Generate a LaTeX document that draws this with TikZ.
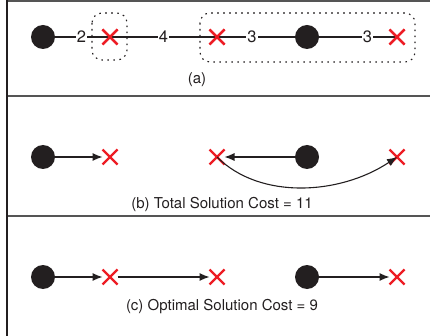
\documentclass[tikz,border=0pt]{standalone}
\usepackage{fontspec}
\setmainfont{TeX Gyre Heros}
\usetikzlibrary{shapes.misc,arrows.meta}
\definecolor{ink}{HTML}{231F20}
\definecolor{xred}{HTML}{ED1C24}
\definecolor{rule}{HTML}{555555}
\begin{document}
\begin{tikzpicture}[x=1pt,y=-1pt,
  dotnode/.style={circle,fill=ink,minimum size=24pt,inner sep=0pt},
  xnode/.style={cross out,draw=xred,line width=2.4pt,minimum size=13pt,inner sep=0pt,outer sep=1pt},
  wlabel/.style={fill=white,inner sep=1pt,text=ink,font=\fontsize{16.5}{19}\selectfont},
  caption/.style={text=ink,font=\fontsize{15}{18}\selectfont},
  conn/.style={draw=ink,line width=1.1pt},
  arr/.style={conn,-{Latex[length=10pt,width=8pt]}},
  grp/.style={draw=ink,line width=1.1pt,dash pattern=on 1.6pt off 4.4pt,rounded corners=10pt},
  sep/.style={draw=rule,line width=2pt}]
\useasboundingbox (0,0) rectangle (430,336);
% frame
\draw[sep] (7,1) -- (430,1);
\draw[sep] (7,96) -- (430,96);
\draw[sep] (7,216) -- (430,216);
\draw[draw=ink,line width=1.2pt] (7,0) -- (7,336);
% (a)
\draw[grp] (92,13) rectangle (127,60);
\draw[grp] (200,13) rectangle (415,62);
\node[dotnode] (a1) at (43,37) {};
\node[xnode] (a2) at (110,37) {};
\node[xnode] (a3) at (217,37) {};
\node[dotnode] (a4) at (307,37) {};
\node[xnode] (a5) at (397,37) {};
\draw[conn] (a1) -- node[wlabel,pos=0.48] {2} (a2.center);
\draw[conn] (a2.center) -- node[wlabel,pos=0.5] {4} (a3.center);
\draw[conn] (a3.center) -- node[wlabel,pos=0.45] {3} (a4);
\draw[conn] (a4) -- node[wlabel,pos=0.62] {3} (a5.center);
\node[xnode] at (a2) {};
\node[xnode] at (a3) {};
\node[xnode] at (a5) {};
\node[caption] (capa) at (197,80) {(a)};
% (b)
\node[dotnode] (b1) at (43,157) {};
\node[xnode] (b2) at (110,157) {};
\node[xnode] (b3) at (217,157) {};
\node[dotnode] (b4) at (307,157) {};
\node[xnode] (b5) at (397,157) {};
\draw[arr] (b1) -- (b2);
\draw[arr] (b4) -- (b3);
\draw[arr] (b3.center) .. controls (260,200) and (340,195) .. (b5.center);
\node[caption] (capb) at (222,204) {(b) Total Solution Cost = 11};
% (c)
\node[dotnode] (c1) at (43,277) {};
\node[xnode] (c2) at (110,277) {};
\node[xnode] (c3) at (217,277) {};
\node[dotnode] (c4) at (307,277) {};
\node[xnode] (c5) at (397,277) {};
\draw[arr] (c1) -- (c2);
\draw[arr] (c2) -- (c3);
\draw[arr] (c4) -- (c5);
\node[caption] (capc) at (222,307) {(c) Optimal Solution Cost = 9};
\end{tikzpicture}
\end{document}
